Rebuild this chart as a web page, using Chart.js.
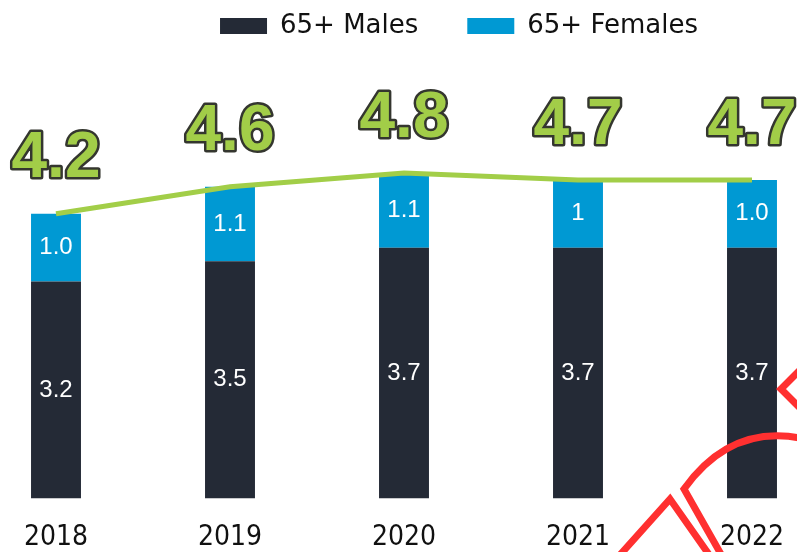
<!DOCTYPE html>
<html>
<head>
<meta charset="utf-8">
<script src="https://cdn.jsdelivr.net/npm/chart.js@4.4.0/dist/chart.umd.min.js"></script>
<style>
  html, body { margin: 0; padding: 0; background: #fff; overflow: hidden; }
  #wrap { position: relative; width: 870px; height: 552px; margin-left: -31px; }
</style>
</head>
<body>
<div id="wrap"><canvas id="popChart"></canvas></div>
<script>
// data
var years = ["2018", "2019", "2020", "2021", "2022"];
var males = [3.2, 3.5, 3.7, 3.7, 3.7];
var females = [1.0, 1.1, 1.1, 1.0, 1.0];
var femaleLabels = ["1.0", "1.1", "1.1", "1", "1.0"];
var totals = [4.2, 4.6, 4.8, 4.7, 4.7];
var totalLabels = ["4.2", "4.6", "4.8", "4.7", "4.7"];

var SHIFT = 31; // canvas is pulled left, bars run past the edges

// white numbers inside the bar segments
var segmentLabels = {
    id: 'segmentLabels',
    afterDatasetsDraw: function(chart) {
        var ctx = chart.ctx;
        ctx.save();
        ctx.fillStyle = '#ffffff';
        ctx.font = '24px "Liberation Sans", Arial, sans-serif';
        ctx.textAlign = 'center';
        ctx.textBaseline = 'middle';
        [0, 1].forEach(function(di) {
            var meta = chart.getDatasetMeta(di);
            var texts = di === 0 ? males.map(String) : femaleLabels;
            meta.data.forEach(function(bar, i) {
                ctx.fillText(texts[i], bar.x, (bar.y + bar.base) / 2);
            });
        });
        ctx.restore();
    }
};

// big green totals above the line
var totalText = {
    id: 'totalText',
    afterDatasetsDraw: function(chart) {
        var ctx = chart.ctx;
        var meta = chart.getDatasetMeta(2);
        ctx.save();
        ctx.font = 'bold 64px "Liberation Sans", Arial, sans-serif';
        ctx.textAlign = 'center';
        ctx.textBaseline = 'middle';
        ctx.lineJoin = 'round';
        meta.data.forEach(function(pt, i) {
            var y = pt.y - 54;
            ctx.lineWidth = 5;
            ctx.strokeStyle = '#34362f';
            ctx.strokeText(totalLabels[i], pt.x, y);
            ctx.fillStyle = '#a2cd48';
            ctx.fillText(totalLabels[i], pt.x, y);
        });
        ctx.restore();
    }
};

// move the legend right and up, like the original
var legendShift = {
    id: 'legendShift',
    afterLayout: function(chart) {
        chart.legend.left += 55;
        chart.legend.right += 55;
        chart.legend.top -= 36;
        chart.legend.bottom -= 36;
    }
};

// red logo corner that sits over the picture
var redMark = {
    id: 'redMark',
    afterDraw: function(chart) {
        var ctx = chart.ctx;
        ctx.save();
        ctx.translate(SHIFT, 0);
        ctx.strokeStyle = '#ff3030';
        ctx.lineWidth = 7;
        ctx.beginPath();
        ctx.moveTo(800, 370);
        ctx.lineTo(781, 389);
        ctx.lineTo(800, 408);
        ctx.stroke();
        ctx.beginPath();
        ctx.moveTo(722, 556);
        ctx.lineTo(684, 489);
        ctx.quadraticCurveTo(730, 425, 800, 438);
        ctx.stroke();
        ctx.beginPath();
        ctx.moveTo(619, 556);
        ctx.lineTo(670, 499);
        ctx.lineTo(710, 556);
        ctx.stroke();
        ctx.restore();
    }
};

var ctx = document.getElementById('popChart').getContext('2d');
var popChart = new Chart(ctx, {
    type: 'bar',
    data: {
        labels: years,
        datasets: [
            {
                label: '65+ Males',
                data: males,
                backgroundColor: '#242a36',
                order: 2
            },
            {
                label: '65+ Females',
                data: females,
                backgroundColor: '#0099d3',
                order: 2
            },
            {
                type: 'line',
                label: 'Total',
                data: totals,
                borderColor: '#a2ce48',
                borderWidth: 5,
                pointRadius: 0,
                stack: 'total',
                order: 1
            }
        ]
    },
    options: {
        responsive: true,
        maintainAspectRatio: false,
        animation: false,
        layout: { padding: 0 },
        datasets: {
            bar: {
                categoryPercentage: 1,
                barPercentage: 0.287
            }
        },
        scales: {
            x: {
                stacked: true,
                grid: { display: false, drawTicks: true, tickLength: 26 },
                border: { display: false },
                ticks: {
                    color: '#111111',
                    padding: -3,
                    font: { size: 28, family: '"Liberation Sans Narrow", "DejaVu Sans Condensed", "Roboto Condensed", "Liberation Sans", sans-serif' }
                }
            },
            y: {
                stacked: true,
                display: false,
                min: 0,
                max: 6.1
            }
        },
        plugins: {
            legend: {
                position: 'top',
                labels: {
                    color: '#111111',
                    boxWidth: 47,
                    boxHeight: 16,
                    padding: 49,
                    font: { size: 26, family: '"DejaVu Sans", sans-serif' },
                    filter: function(item) { return item.text !== 'Total'; }
                }
            },
            tooltip: { enabled: false }
        }
    },
    plugins: [segmentLabels, totalText, legendShift, redMark]
});
</script>
</body>
</html>
